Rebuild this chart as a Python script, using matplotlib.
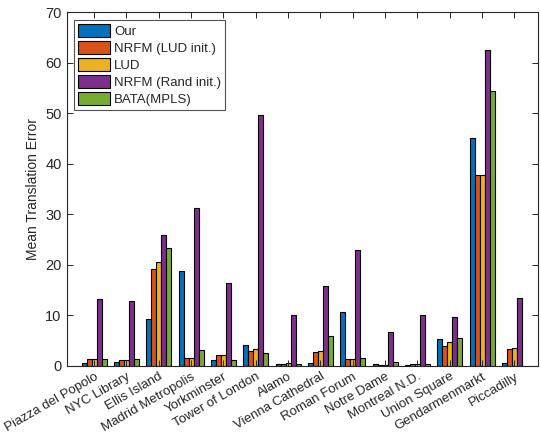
import matplotlib.pyplot as plt
import numpy as np

plt.rcParams['font.family'] = ['Liberation Sans', 'DejaVu Sans']
plt.rcParams['text.color'] = '#262626'
plt.rcParams['axes.labelcolor'] = '#262626'
plt.rcParams['xtick.color'] = '#262626'
plt.rcParams['ytick.color'] = '#262626'
plt.rcParams['axes.edgecolor'] = '#262626'

scenes = ["Piazza del Popolo", "NYC Library", "Ellis Island", "Madrid Metropolis",
          "Yorkminster", "Tower of London", "Alamo", "Vienna Cathedral",
          "Roman Forum", "Notre Dame", "Montreal N.D.", "Union Square",
          "Gendarmenmarkt", "Piccadilly"]

our = [0.6, 0.8, 9.2, 18.8, 1.2, 4.1, 0.33, 0.6, 10.6, 0.33, 0.1, 5.3, 45.1, 0.6]
nrfm_lud = [1.4, 1.2, 19.1, 1.6, 2.1, 2.9, 0.33, 2.7, 1.4, 0.1, 0.4, 4.0, 37.8, 3.4]
lud = [1.4, 1.2, 20.6, 1.6, 2.1, 3.4, 0.5, 2.9, 1.4, 0.1, 0.4, 4.7, 37.8, 3.6]
nrfm_rand = [13.2, 12.9, 25.9, 31.3, 16.4, 49.7, 10.0, 15.8, 22.9, 6.7, 10.1, 9.7, 62.5, 13.5]
bata = [1.4, 1.4, 23.4, 3.2, 1.2, 2.6, 0.33, 6.0, 1.65, 0.8, 0.4, 5.5, 54.3, 0.0]

series = [our, nrfm_lud, lud, nrfm_rand, bata]
names = ["Our", "NRFM (LUD init.)", "LUD", "NRFM (Rand init.)", "BATA(MPLS)"]
colors = ["#0072BD", "#D95319", "#EDB120", "#7E2F8E", "#77AC30"]

fig = plt.figure(figsize=(5.41, 4.34), dpi=100)
ax = fig.add_axes([0.123, 0.157, 0.871, 0.815])

x = np.arange(1, len(scenes) + 1)
w = 0.155
for i, (vals, name, c) in enumerate(zip(series, names, colors)):
    ax.bar(x + (i - 2) * w, vals, width=w, color=c, edgecolor="black",
           linewidth=0.8, label=name)

ax.set_xlim(0.15, 14.72)
ax.set_ylim(0, 70)
ax.set_yticks(range(0, 71, 10))
ax.set_xticks(x)
ax.set_xticklabels(scenes, rotation=30, ha="right", rotation_mode="anchor", fontsize=9.5)
ax.tick_params(axis="both", direction="in", top=True, right=True, length=4, width=0.7)
ax.tick_params(axis="y", labelsize=10.5)
ax.set_ylabel("Mean Translation Error", fontsize=10, labelpad=4)
for s in ax.spines.values():
    s.set_linewidth(0.8)

leg = ax.legend(loc="upper left", fontsize=9.5, frameon=True, fancybox=False,
                edgecolor="#262626", handlelength=2.4, handleheight=1.1,
                labelspacing=0.25, handletextpad=0.3, borderaxespad=0.6,
                borderpad=0.3)
leg.get_frame().set_linewidth(0.8)

plt.savefig("out.png")
